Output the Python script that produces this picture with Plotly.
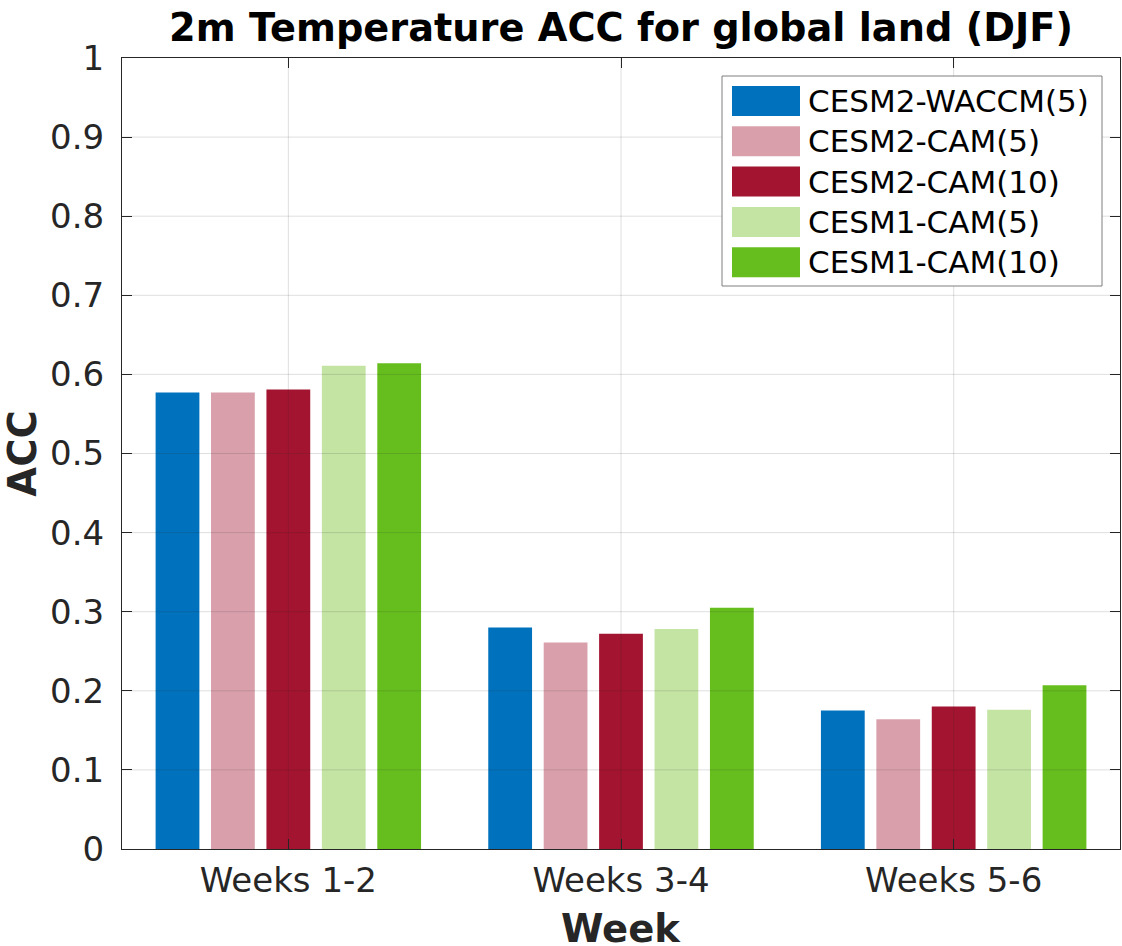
import plotly.graph_objects as go

# Forecast lead windows and the ACC scores of each model configuration
weeks = ["Weeks 1-2", "Weeks 3-4", "Weeks 5-6"]
models = ["CESM2-WACCM(5)", "CESM2-CAM(5)", "CESM2-CAM(10)", "CESM1-CAM(5)", "CESM1-CAM(10)"]
acc_waccm5 = [0.577, 0.280, 0.175]
acc_cesm2_cam5 = [0.577, 0.261, 0.164]
acc_cesm2_cam10 = [0.581, 0.272, 0.180]
acc_cesm1_cam5 = [0.611, 0.278, 0.176]
acc_cesm1_cam10 = [0.614, 0.305, 0.207]
series = [acc_waccm5, acc_cesm2_cam5, acc_cesm2_cam10, acc_cesm1_cam5, acc_cesm1_cam10]
colors = ["#0072BD", "#D9A0AC", "#A2142F", "#C4E4A4", "#66BE1E"]
y_ticks = [0, 0.1, 0.2, 0.3, 0.4, 0.5, 0.6, 0.7, 0.8, 0.9, 1]
y_tick_text = ["0", "0.1", "0.2", "0.3", "0.4", "0.5", "0.6", "0.7", "0.8", "0.9", "1"]

FONT = "DejaVu Sans"
AXC = "#262626"

fig = go.Figure()
for name, vals, col in zip(models, series, colors):
    fig.add_trace(go.Bar(x=weeks, y=vals, name=name, marker=dict(color=col, line=dict(width=0)),
                         showlegend=False))

# grid drawn over the bars
grid = "rgba(38,38,38,0.15)"
for t in y_ticks[1:-1]:
    fig.add_shape(type="line", xref="paper", yref="y", x0=0, x1=1, y0=t, y1=t,
                  line=dict(color=grid, width=1), layer="above")
for w in weeks:
    fig.add_shape(type="line", xref="x", yref="paper", x0=w, x1=w, y0=0, y1=1,
                  line=dict(color=grid, width=1), layer="above")

# legend box with swatches
W, H = 1122, 946
ml, mr, mt, mb = 122, 2, 58, 97
pw, ph = W - ml - mr, H - mt - mb

def px(x):
    return (x - ml) / pw

def py(y):
    return 1 - (y - mt) / ph

fig.add_shape(type="rect", xref="paper", yref="paper", x0=px(722), x1=px(1102), y0=py(76), y1=py(286),
              line=dict(color="#7f7f7f", width=1), fillcolor="white", layer="above")
for i, (name, col) in enumerate(zip(models, colors)):
    yc = 101 + i * 40.3
    fig.add_shape(type="rect", xref="paper", yref="paper", x0=px(732), x1=px(800),
                  y0=py(yc + 15), y1=py(yc - 15), line=dict(width=0), fillcolor=col, layer="above")
    fig.add_annotation(xref="paper", yref="paper", x=px(806), y=py(yc), text=name, showarrow=False,
                       xanchor="left", yanchor="middle", font=dict(family=FONT, size=31, color="black"))

# x-axis title
fig.add_annotation(xref="paper", yref="paper", x=0.5, y=py(928), text="<b>Week</b>", showarrow=False,
                   xanchor="center", yanchor="middle", font=dict(family=FONT, size=38.5, color=AXC))

fig.update_layout(
    width=W, height=H,
    margin=dict(l=ml, r=mr, t=mt, b=mb),
    paper_bgcolor="white", plot_bgcolor="white",
    barmode="group", bargap=0.167, bargroupgap=0.21,
    title=dict(text="<b>2m Temperature ACC for global land (DJF)</b>", x=0.5535, xanchor="center",
               y=0.971, yanchor="middle", font=dict(family=FONT, size=38.3, color="black")),
    font=dict(family=FONT, color=AXC),
)
fig.update_xaxes(range=[-0.5, 2.5], showgrid=False, showline=True, linecolor=AXC, linewidth=1,
                 mirror="ticks", ticks="inside", ticklen=10, tickcolor=AXC, automargin=False,
                 tickfont=dict(family=FONT, size=34, color=AXC), ticklabelstandoff=1)
fig.update_yaxes(range=[0, 1], tickvals=y_ticks, ticktext=y_tick_text, showgrid=False, zeroline=False,
                 showline=True, linecolor=AXC, linewidth=1, mirror="ticks", ticks="inside", ticklen=10,
                 tickcolor=AXC, tickfont=dict(family=FONT, size=34, color=AXC), ticklabelstandoff=10,
                 automargin=False,
                 title=dict(text="<b>ACC</b>", font=dict(family=FONT, size=38.5, color=AXC), standoff=12))

fig.write_html("out.html")
